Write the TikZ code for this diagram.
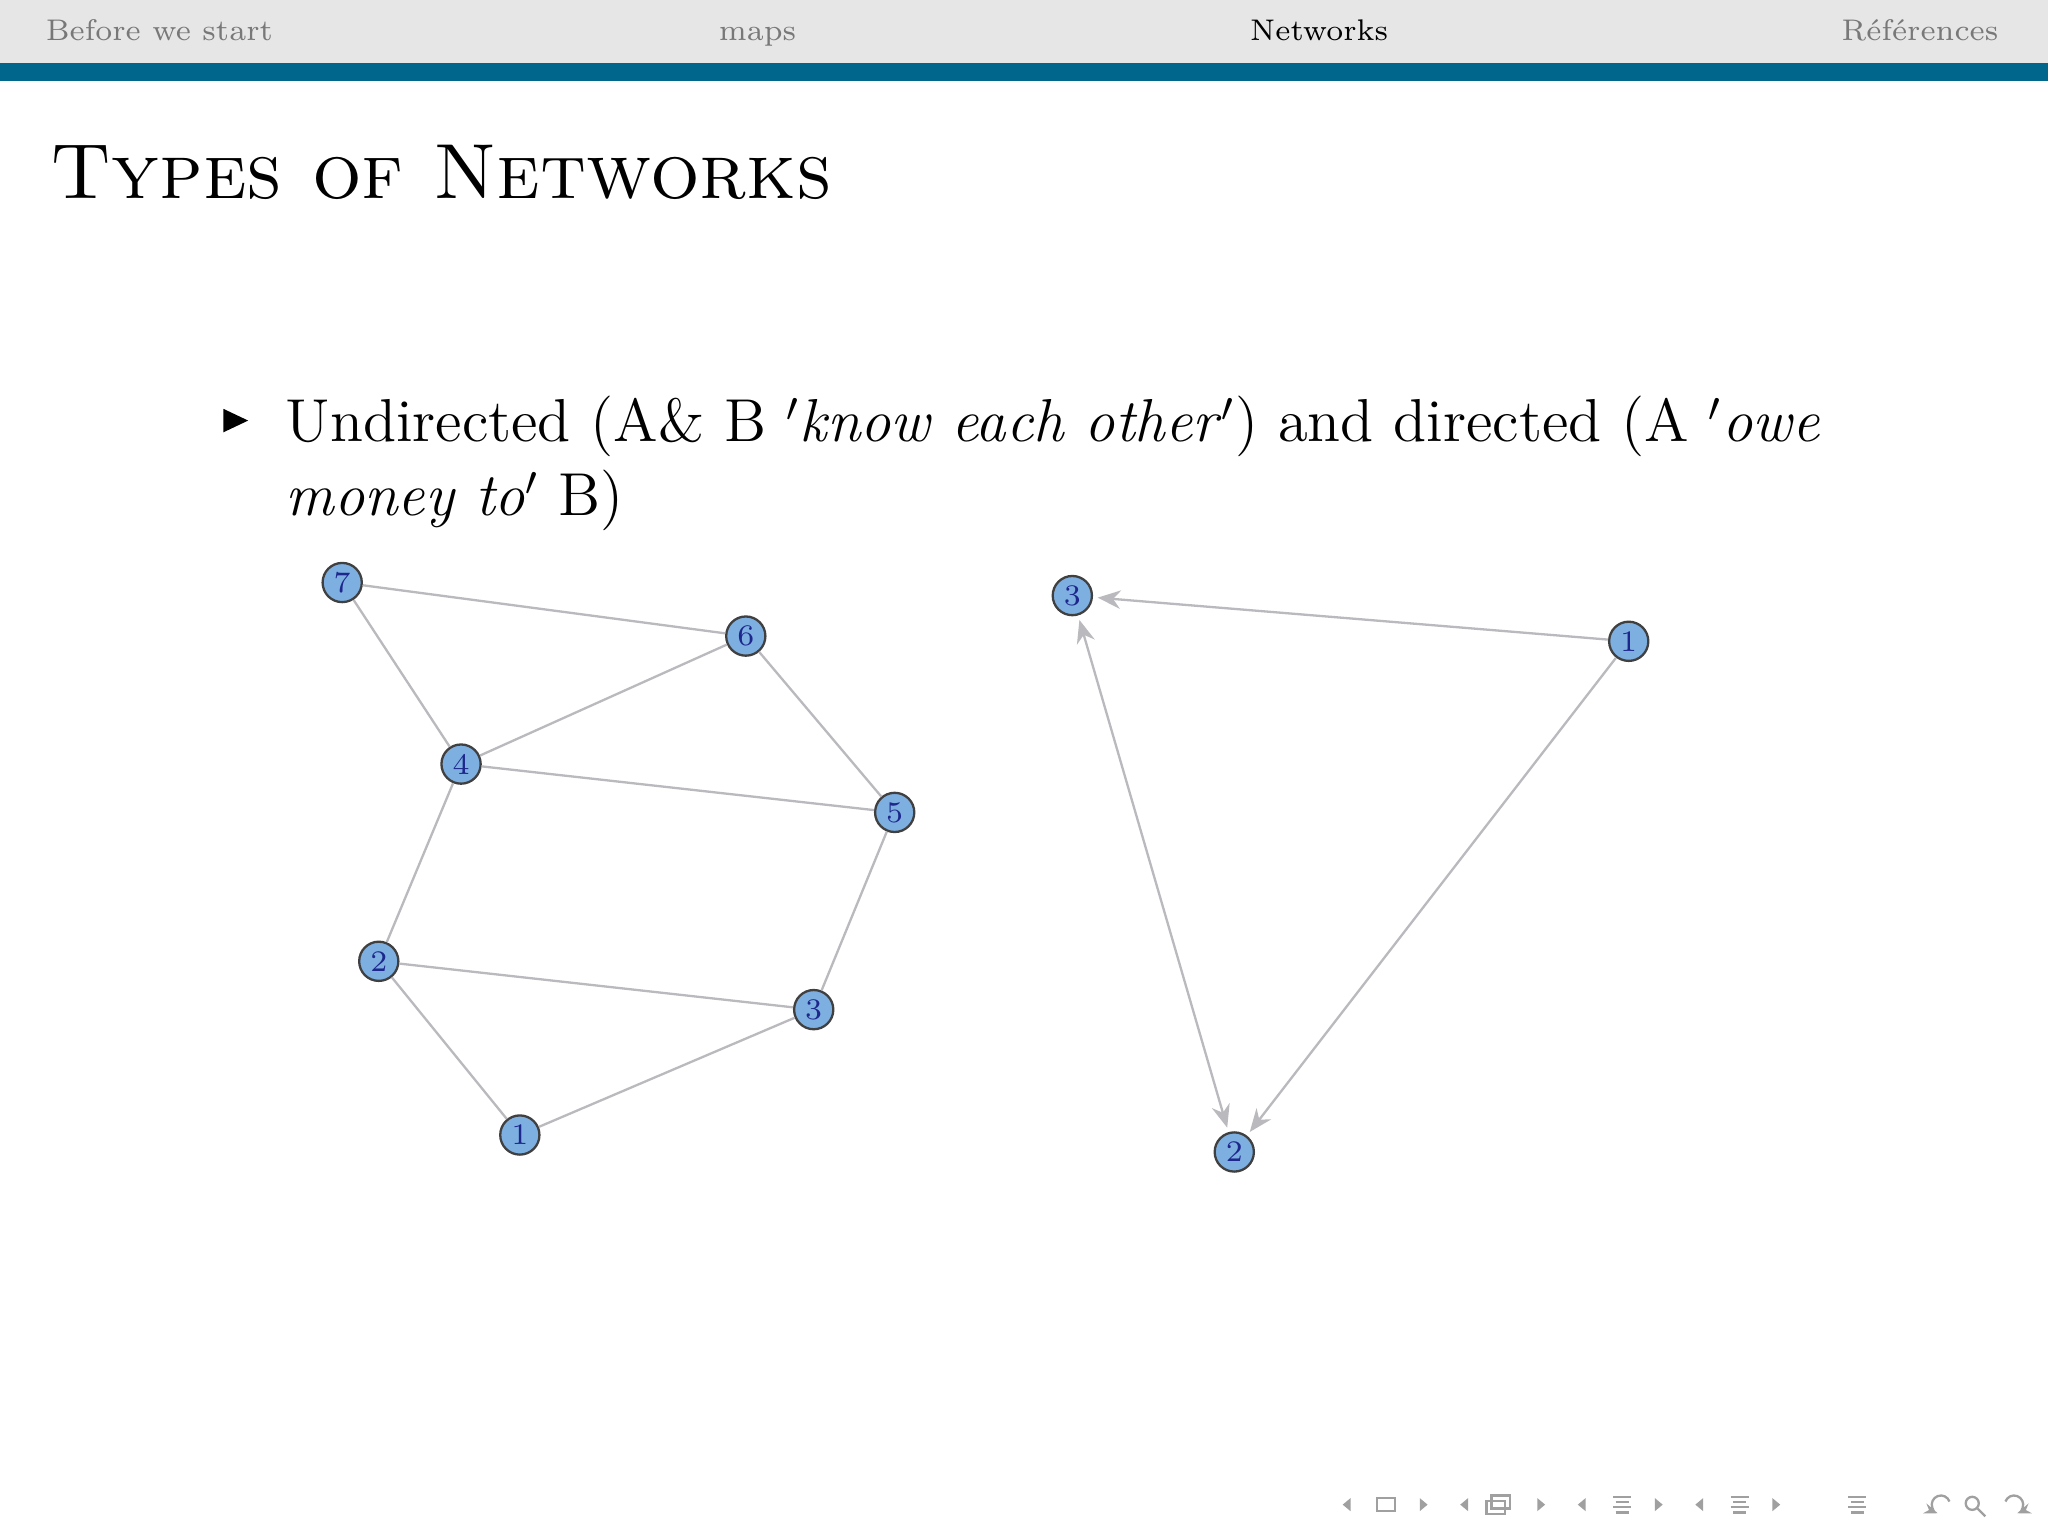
\documentclass[tikz,border=0pt]{standalone}
\usetikzlibrary{arrows.meta}
\definecolor{hdrgray}{RGB}{230,230,230}
\definecolor{hdrblue}{RGB}{0,102,140}
\definecolor{navtxt}{RGB}{120,120,120}
\definecolor{vfill}{RGB}{125,175,225}
\definecolor{vtxt}{RGB}{30,40,140}
\definecolor{edg}{RGB}{185,185,190}
\tikzset{
 v/.style={circle,draw=black!75,fill=vfill,line width=0.5pt,minimum size=0.3cm,inner sep=0pt,font=\fontsize{6.5}{7}\selectfont,text=vtxt},
 e/.style={draw=edg,line width=0.5pt},
 de/.style={e,-{Stealth[length=5pt,width=4pt]},shorten >=1pt},
 nav/.style={fill=navtxt!70,draw=none},
 navl/.style={draw=navtxt!70,line width=0.5pt},
 hdr/.style={text=navtxt,font=\fontsize{6.5}{8}\selectfont,anchor=base}
}
\begin{document}
\begin{tikzpicture}[x=0.01cm,y=-0.01cm]
\useasboundingbox (0,0) rectangle (1568,1176);
\fill[white] (0,0) rectangle (1568,1176);
\fill[hdrgray] (0,0) rectangle (1568,48);
\fill[hdrblue] (0,48) rectangle (1568,62);
\node[hdr] (h1) at (122,31) {Before we start};
\node[hdr] (h2) at (580,31) {maps};
\node[hdr,text=black] (h3) at (1010,31) {Networks};
\node[hdr] (h4) at (1470,31) {Références};
\node[anchor=base west,inner sep=0pt,font=\fontsize{17}{21}\selectfont] (title) at (38,152) {\textsc{Types of Networks}};
\fill (171,313) -- (190,322) -- (171,331) -- cycle;
\node[anchor=base west,inner sep=0pt,font=\fontsize{13.2}{16}\selectfont] (l1) at (218,338) {Undirected (A\& B $'$\textit{know each other}$'$) and directed (A $'$\textit{owe}};
\node[anchor=base west,inner sep=0pt,font=\fontsize{13.2}{16}\selectfont] (l2) at (218,395) {\textit{money to}$'$ B)};
% left graph
\node[v] (a7) at (262,446) {7};
\node[v] (a6) at (571,487) {6};
\node[v] (a4) at (353,585) {4};
\node[v] (a5) at (685,622) {5};
\node[v] (a2) at (290,736) {2};
\node[v] (a3) at (623,773) {3};
\node[v] (a1) at (398,869) {1};
\foreach \s/\t in {a7/a6,a7/a4,a6/a4,a6/a5,a4/a5,a4/a2,a5/a3,a2/a3,a2/a1,a1/a3}
  \draw[e] (\s) -- (\t);
% right graph
\node[v] (b3) at (821,456) {3};
\node[v] (b1) at (1247,491) {1};
\node[v] (b2) at (945,882) {2};
\draw[de] (b1) -- (b3);
\draw[de] (b1) -- (b2);
\draw[e,{Stealth[length=5pt,width=4pt]}-{Stealth[length=5pt,width=4pt]},shorten >=1pt,shorten <=1pt] (b3) -- (b2);
% navigation symbols
\foreach \x in {1030,1120,1210,1300} \fill[nav] (\x+4,1147) -- (\x-2,1152) -- (\x+4,1157) -- cycle;
\foreach \x in {1090,1180,1270,1360} \fill[nav] (\x-3,1147) -- (\x+3,1152) -- (\x-3,1157) -- cycle;
\draw[navl] (1054,1147) rectangle (1068,1157);
\draw[navl] (1138,1149) rectangle (1152,1159);
\draw[navl] (1142,1145) rectangle (1156,1155);
\foreach \x in {1242,1332,1422} {\draw[navl] (\x-7,1146) -- (\x+7,1146); \draw[navl] (\x-5,1150) -- (\x+5,1150); \draw[navl] (\x-7,1154) -- (\x+7,1154); \draw[navl] (\x-5,1158) -- (\x+5,1158);}
\draw[navl,-{Stealth[length=3pt]}] (1486,1152) ++(-20:7) arc (-20:-250:7);
\draw[navl] (1510,1151) circle (5); \draw[navl] (1514,1155) -- (1520,1161);
\draw[navl,-{Stealth[length=3pt]}] (1542,1152) ++(200:7) arc (200:430:7);
\end{tikzpicture}
\end{document}
